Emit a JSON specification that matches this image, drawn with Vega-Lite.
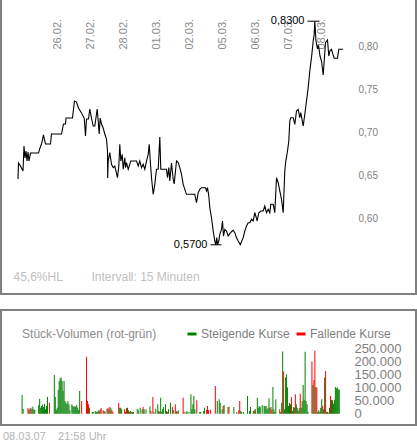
{
  "$schema": "https://vega.github.io/schema/vega-lite/v6.json",
  "padding": {"left": 0, "top": -2, "right": 0, "bottom": 0},
  "spacing": 14,
  "config": {
    "font": "Liberation Sans",
    "view": {"stroke": "#808080", "strokeWidth": 2}
  },
  "title": {
    "text": "08.03.07\u00a0\u00a0\u00a0\u00a021:58 Uhr",
    "orient": "bottom",
    "anchor": "start",
    "fontSize": 11,
    "fontWeight": "normal",
    "color": "#b4b4b4",
    "offset": 5,
    "dx": 3
  },
  "vconcat": [
    {
      "width": 415,
      "height": 295,
      "layer": [
        {
          "data": {
            "values": [
              {"n": -39.5, "p": 0.6465}, {"n": -39, "p": 0.6651}, {"n": -37, "p": 0.6616}, {"n": -34.5, "p": 0.6558},
              {"n": -33.5, "p": 0.6849}, {"n": -32.5, "p": 0.6709}, {"n": -31.5, "p": 0.6791}, {"n": -30.5, "p": 0.6674},
              {"n": -29.5, "p": 0.6779}, {"n": -28.5, "p": 0.6674}, {"n": -27, "p": 0.6767}, {"n": -19, "p": 0.6767},
              {"n": -17.5, "p": 0.6826}, {"n": -16, "p": 0.6872}, {"n": -14, "p": 0.6977}, {"n": -13, "p": 0.6919},
              {"n": -12, "p": 0.6872}, {"n": -7, "p": 0.6872}, {"n": -6, "p": 0.6988}, {"n": 4, "p": 0.6988},
              {"n": 5, "p": 0.7047}, {"n": 6, "p": 0.7105}, {"n": 8, "p": 0.7105}, {"n": 8.5, "p": 0.7174},
              {"n": 15, "p": 0.7174}, {"n": 16, "p": 0.7279}, {"n": 17, "p": 0.7372}, {"n": 19, "p": 0.736},
              {"n": 21, "p": 0.7291}, {"n": 24, "p": 0.7233}, {"n": 26.7, "p": 0.7174}, {"n": 28, "p": 0.6965},
              {"n": 29, "p": 0.7163}, {"n": 31, "p": 0.7163}, {"n": 32.3, "p": 0.7279}, {"n": 34, "p": 0.7174},
              {"n": 35.7, "p": 0.7081}, {"n": 37.3, "p": 0.7081}, {"n": 39, "p": 0.7221}, {"n": 39.7, "p": 0.7279},
              {"n": 40.7, "p": 0.714}, {"n": 41.7, "p": 0.6988}, {"n": 42.7, "p": 0.7174}, {"n": 44, "p": 0.7105},
              {"n": 45.7, "p": 0.7058}, {"n": 47.3, "p": 0.6988}, {"n": 49, "p": 0.693}, {"n": 50, "p": 0.6791},
              {"n": 50.2, "p": 0.6477}, {"n": 50.7, "p": 0.6674}, {"n": 52.3, "p": 0.6771}, {"n": 54, "p": 0.6636},
              {"n": 55.7, "p": 0.6597}, {"n": 57.3, "p": 0.6616}, {"n": 60, "p": 0.648}, {"n": 61.3, "p": 0.6616},
              {"n": 62.3, "p": 0.6869}, {"n": 63.3, "p": 0.6674}, {"n": 64.7, "p": 0.6752}, {"n": 65.7, "p": 0.6578},
              {"n": 67.3, "p": 0.6713}, {"n": 68, "p": 0.6597}, {"n": 69, "p": 0.6655}, {"n": 70.7, "p": 0.6578},
              {"n": 72.3, "p": 0.6636}, {"n": 73.3, "p": 0.6674}, {"n": 79, "p": 0.6674}, {"n": 80.7, "p": 0.6616},
              {"n": 82.3, "p": 0.6674}, {"n": 84, "p": 0.6597}, {"n": 85.7, "p": 0.6636}, {"n": 87.3, "p": 0.6578},
              {"n": 89, "p": 0.6674}, {"n": 90.7, "p": 0.6752}, {"n": 91.7, "p": 0.6869}, {"n": 93, "p": 0.6636},
              {"n": 94, "p": 0.648}, {"n": 95.7, "p": 0.6287}, {"n": 97.3, "p": 0.6403}, {"n": 98, "p": 0.648},
              {"n": 99, "p": 0.6578}, {"n": 100.7, "p": 0.6578}, {"n": 102.3, "p": 0.6953}, {"n": 103.3, "p": 0.6578},
              {"n": 109, "p": 0.6578}, {"n": 110, "p": 0.648}, {"n": 111.3, "p": 0.6597}, {"n": 112.3, "p": 0.6442},
              {"n": 114, "p": 0.6651}, {"n": 115.7, "p": 0.6465}, {"n": 116.7, "p": 0.6407}, {"n": 119, "p": 0.6674},
              {"n": 120.7, "p": 0.6655}, {"n": 122.3, "p": 0.6597}, {"n": 124, "p": 0.652}, {"n": 125.7, "p": 0.6403},
              {"n": 127.3, "p": 0.6345}, {"n": 129, "p": 0.6287}, {"n": 137.3, "p": 0.6287}, {"n": 139, "p": 0.619},
              {"n": 140.7, "p": 0.6306}, {"n": 142.3, "p": 0.6345}, {"n": 144, "p": 0.6364}, {"n": 148, "p": 0.6364},
              {"n": 149, "p": 0.6326}, {"n": 150, "p": 0.6364}, {"n": 151.3, "p": 0.6267}, {"n": 152.3, "p": 0.6131},
              {"n": 154, "p": 0.6015}, {"n": 155.7, "p": 0.586}, {"n": 157.3, "p": 0.5744}, {"n": 158.3, "p": 0.57},
              {"n": 159.3, "p": 0.5783}, {"n": 160, "p": 0.57}, {"n": 161.3, "p": 0.5744}, {"n": 162.3, "p": 0.5822},
              {"n": 164, "p": 0.588}, {"n": 165, "p": 0.5977}, {"n": 166, "p": 0.5802}, {"n": 167.3, "p": 0.588},
              {"n": 169, "p": 0.586}, {"n": 170.7, "p": 0.5802}, {"n": 172.3, "p": 0.5829}, {"n": 174, "p": 0.5852},
              {"n": 175.7, "p": 0.5869}, {"n": 177.3, "p": 0.5841}, {"n": 179, "p": 0.5783}, {"n": 180.7, "p": 0.5744},
              {"n": 182.8, "p": 0.57}, {"n": 185.7, "p": 0.5783}, {"n": 187.3, "p": 0.586}, {"n": 189, "p": 0.5919},
              {"n": 190.7, "p": 0.5957}, {"n": 192.3, "p": 0.5957}, {"n": 194, "p": 0.5997}, {"n": 195.7, "p": 0.5977},
              {"n": 197.3, "p": 0.6073}, {"n": 198.3, "p": 0.6035}, {"n": 199.7, "p": 0.5977}, {"n": 201.3, "p": 0.6073},
              {"n": 203.3, "p": 0.6093}, {"n": 205.7, "p": 0.6093}, {"n": 207.3, "p": 0.6151}, {"n": 209, "p": 0.6073},
              {"n": 210.7, "p": 0.6113}, {"n": 212.3, "p": 0.6073}, {"n": 213.3, "p": 0.6171}, {"n": 215.7, "p": 0.6171},
              {"n": 217.3, "p": 0.6073}, {"n": 219, "p": 0.648}, {"n": 220.7, "p": 0.6422}, {"n": 222.3, "p": 0.6326},
              {"n": 224, "p": 0.6229}, {"n": 225.7, "p": 0.6073}, {"n": 227.3, "p": 0.6558}, {"n": 228.3, "p": 0.6674},
              {"n": 230, "p": 0.6791}, {"n": 231.3, "p": 0.6907}, {"n": 232.3, "p": 0.714}, {"n": 233.3, "p": 0.7178},
              {"n": 235.7, "p": 0.7178}, {"n": 237.3, "p": 0.7101}, {"n": 239, "p": 0.7256}, {"n": 240.7, "p": 0.7276},
              {"n": 242.3, "p": 0.7178}, {"n": 243.3, "p": 0.7236}, {"n": 245.7, "p": 0.7081}, {"n": 247.3, "p": 0.7217},
              {"n": 249, "p": 0.7372}, {"n": 250.7, "p": 0.7527}, {"n": 252.3, "p": 0.7721}, {"n": 254, "p": 0.7876},
              {"n": 255.7, "p": 0.807}, {"n": 256.7, "p": 0.8147}, {"n": 257.3, "p": 0.83}, {"n": 258.5, "p": 0.807},
              {"n": 260, "p": 0.7977}, {"n": 261, "p": 0.8023}, {"n": 262.5, "p": 0.7895}, {"n": 264, "p": 0.7837},
              {"n": 265.7, "p": 0.7674}, {"n": 266.7, "p": 0.7837}, {"n": 268, "p": 0.805}, {"n": 270, "p": 0.8081},
              {"n": 271.3, "p": 0.7895}, {"n": 272.3, "p": 0.7953}, {"n": 274, "p": 0.7973}, {"n": 275.3, "p": 0.7919},
              {"n": 276.7, "p": 0.7869}, {"n": 280, "p": 0.7869}, {"n": 281.3, "p": 0.7973}, {"n": 285.7, "p": 0.7973}
            ]
          },
          "mark": {"type": "line", "color": "black", "strokeWidth": 1.1},
          "encoding": {
            "x": {
              "field": "n",
              "type": "quantitative",
              "scale": {"domain": [-56.5, 358.5], "nice": false, "zero": false},
              "axis": {
                "orient": "top",
                "offset": -52,
                "values": [0, 33, 66, 99, 132, 165, 198, 231, 264],
                "labelExpr": "['26.02.','27.02.','28.02.','01.03.','02.03.','05.03.','06.03.','07.03.','08.03.'][round(datum.value / 33)]",
                "labelAngle": -90,
                "labelFontSize": 11,
                "labelColor": "#8c8c8c",
                "labelPadding": 2,
                "labelOverlap": false,
                "labelFlush": false,
                "domain": false,
                "ticks": false,
                "grid": false,
                "title": null
              }
            },
            "y": {
              "field": "p",
              "type": "quantitative",
              "scale": {"domain": [0.51279, 0.85581], "nice": false, "zero": false},
              "axis": {
                "orient": "right",
                "offset": -60,
                "values": [0.6, 0.65, 0.7, 0.75, 0.8],
                "labelExpr": "replace(format(datum.value, '.2f'), '.', ',')",
                "labelFontSize": 10,
                "labelColor": "#808080",
                "labelPadding": 2,
                "domain": false,
                "ticks": false,
                "grid": false,
                "title": null
              }
            }
          }
        },
        {
          "data": {
            "values": [
              {"n1": 250, "n2": 262, "p": 0.83},
              {"n1": 153, "n2": 164, "p": 0.57}
            ]
          },
          "mark": {"type": "rule", "color": "black", "strokeWidth": 1},
          "encoding": {
            "x": {"field": "n1", "type": "quantitative"},
            "x2": {"field": "n2"},
            "y": {"field": "p", "type": "quantitative"}
          }
        },
        {
          "data": {
            "values": [
              {"n1": 250, "p": 0.83, "label": "0,8300"},
              {"n1": 153, "p": 0.57, "label": "0,5700"}
            ]
          },
          "mark": {"type": "text", "align": "right", "baseline": "middle", "dx": -3, "fontSize": 11, "color": "black"},
          "encoding": {
            "x": {"field": "n1", "type": "quantitative"},
            "y": {"field": "p", "type": "quantitative"},
            "text": {"field": "label"}
          }
        },
        {
          "data": {
            "values": [
              {"n": -44, "p": 0.5326, "label": "45,6%HL"},
              {"n": 34, "p": 0.5326, "label": "Intervall: 15 Minuten"}
            ]
          },
          "mark": {"type": "text", "align": "left", "baseline": "middle", "fontSize": 12, "color": "#c0c0c0"},
          "encoding": {
            "x": {"field": "n", "type": "quantitative"},
            "y": {"field": "p", "type": "quantitative"},
            "text": {"field": "label"}
          }
        }
      ]
    },
    {
      "width": 415,
      "height": 115,
      "encoding": {
        "x": {
          "field": "n",
          "type": "quantitative",
          "scale": {"domain": [-56.5, 358.5], "nice": false, "zero": false},
          "axis": null
        },
        "y": {
          "field": "vol",
          "type": "quantitative",
          "scale": {"domain": [-43660, 400700], "nice": false, "zero": false},
          "axis": null
        }
      },
      "layer": [
        {
          "data": {
            "values": [
              {"n": -40, "vol": 72000, "typ": "Steigende Kurse"}, {"n": -39, "vol": 18000, "typ": "Steigende Kurse"},
              {"n": -34, "vol": 22000, "typ": "Fallende Kurse"}, {"n": -33, "vol": 15500, "typ": "Steigende Kurse"},
              {"n": -32, "vol": 19400, "typ": "Fallende Kurse"}, {"n": -31, "vol": 23000, "typ": "Steigende Kurse"},
              {"n": -30, "vol": 16800, "typ": "Fallende Kurse"}, {"n": -29, "vol": 27000, "typ": "Steigende Kurse"},
              {"n": -28, "vol": 16800, "typ": "Steigende Kurse"}, {"n": -27, "vol": 14000, "typ": "Steigende Kurse"},
              {"n": -23, "vol": 33600, "typ": "Steigende Kurse"}, {"n": -22, "vol": 58000, "typ": "Steigende Kurse"},
              {"n": -21, "vol": 23000, "typ": "Steigende Kurse"}, {"n": -20, "vol": 29700, "typ": "Steigende Kurse"},
              {"n": -19, "vol": 36000, "typ": "Steigende Kurse"}, {"n": -18, "vol": 25800, "typ": "Steigende Kurse"},
              {"n": -17, "vol": 38800, "typ": "Steigende Kurse"}, {"n": -16, "vol": 16800, "typ": "Steigende Kurse"},
              {"n": -15, "vol": 29700, "typ": "Steigende Kurse"}, {"n": -14, "vol": 64600, "typ": "Steigende Kurse"},
              {"n": -12, "vol": 42600, "typ": "Fallende Kurse"}, {"n": -7, "vol": 150000, "typ": "Steigende Kurse"},
              {"n": -6, "vol": 64600, "typ": "Steigende Kurse"}, {"n": -5, "vol": 15500, "typ": "Steigende Kurse"},
              {"n": -4, "vol": 23000, "typ": "Steigende Kurse"}, {"n": -3, "vol": 91700, "typ": "Steigende Kurse"},
              {"n": -2, "vol": 126600, "typ": "Steigende Kurse"}, {"n": -1, "vol": 137000, "typ": "Steigende Kurse"},
              {"n": 0, "vol": 139500, "typ": "Steigende Kurse"}, {"n": 1, "vol": 126600, "typ": "Steigende Kurse"},
              {"n": 2, "vol": 87900, "typ": "Steigende Kurse"}, {"n": 3, "vol": 126600, "typ": "Steigende Kurse"},
              {"n": 4, "vol": 49100, "typ": "Steigende Kurse"}, {"n": 5, "vol": 42600, "typ": "Steigende Kurse"},
              {"n": 6, "vol": 38800, "typ": "Steigende Kurse"}, {"n": 7, "vol": 49100, "typ": "Steigende Kurse"},
              {"n": 8, "vol": 36200, "typ": "Steigende Kurse"}, {"n": 9, "vol": 12900, "typ": "Steigende Kurse"},
              {"n": 11, "vol": 36200, "typ": "Steigende Kurse"}, {"n": 12, "vol": 29700, "typ": "Steigende Kurse"},
              {"n": 13, "vol": 25800, "typ": "Steigende Kurse"}, {"n": 14, "vol": 29700, "typ": "Steigende Kurse"},
              {"n": 15, "vol": 25800, "typ": "Steigende Kurse"}, {"n": 16, "vol": 33600, "typ": "Steigende Kurse"},
              {"n": 17, "vol": 23000, "typ": "Steigende Kurse"}, {"n": 18, "vol": 14200, "typ": "Steigende Kurse"},
              {"n": 19, "vol": 87900, "typ": "Steigende Kurse"}, {"n": 21, "vol": 49100, "typ": "Fallende Kurse"},
              {"n": 26, "vol": 219600, "typ": "Fallende Kurse"}, {"n": 27, "vol": 49100, "typ": "Fallende Kurse"},
              {"n": 28, "vol": 36200, "typ": "Fallende Kurse"}, {"n": 29, "vol": 23000, "typ": "Steigende Kurse"},
              {"n": 32, "vol": 6500, "typ": "Steigende Kurse"}, {"n": 33, "vol": 6500, "typ": "Steigende Kurse"},
              {"n": 35, "vol": 10300, "typ": "Steigende Kurse"}, {"n": 36, "vol": 7800, "typ": "Steigende Kurse"},
              {"n": 37, "vol": 6500, "typ": "Steigende Kurse"}, {"n": 38, "vol": 12900, "typ": "Steigende Kurse"},
              {"n": 39, "vol": 10300, "typ": "Fallende Kurse"}, {"n": 40, "vol": 16800, "typ": "Steigende Kurse"},
              {"n": 41, "vol": 22000, "typ": "Fallende Kurse"}, {"n": 43, "vol": 12900, "typ": "Fallende Kurse"},
              {"n": 44, "vol": 10300, "typ": "Fallende Kurse"}, {"n": 45, "vol": 7800, "typ": "Steigende Kurse"},
              {"n": 47, "vol": 19400, "typ": "Steigende Kurse"}, {"n": 48, "vol": 23300, "typ": "Fallende Kurse"},
              {"n": 49, "vol": 16800, "typ": "Steigende Kurse"}, {"n": 50, "vol": 25800, "typ": "Fallende Kurse"},
              {"n": 51, "vol": 20700, "typ": "Steigende Kurse"}, {"n": 52, "vol": 12900, "typ": "Fallende Kurse"},
              {"n": 53, "vol": 7800, "typ": "Fallende Kurse"}, {"n": 59, "vol": 41300, "typ": "Fallende Kurse"},
              {"n": 60, "vol": 23300, "typ": "Steigende Kurse"}, {"n": 61, "vol": 23300, "typ": "Steigende Kurse"},
              {"n": 62, "vol": 16800, "typ": "Steigende Kurse"}, {"n": 65, "vol": 16800, "typ": "Fallende Kurse"},
              {"n": 66, "vol": 6500, "typ": "Fallende Kurse"}, {"n": 67, "vol": 20700, "typ": "Fallende Kurse"},
              {"n": 68, "vol": 23300, "typ": "Steigende Kurse"}, {"n": 69, "vol": 12900, "typ": "Steigende Kurse"},
              {"n": 70, "vol": 7800, "typ": "Fallende Kurse"}, {"n": 71, "vol": 10300, "typ": "Steigende Kurse"},
              {"n": 72, "vol": 6500, "typ": "Steigende Kurse"}, {"n": 73, "vol": 6500, "typ": "Fallende Kurse"},
              {"n": 74, "vol": 6500, "typ": "Steigende Kurse"}, {"n": 78, "vol": 18100, "typ": "Steigende Kurse"},
              {"n": 79, "vol": 12900, "typ": "Steigende Kurse"}, {"n": 81, "vol": 23300, "typ": "Steigende Kurse"},
              {"n": 83, "vol": 16800, "typ": "Steigende Kurse"}, {"n": 84, "vol": 25800, "typ": "Fallende Kurse"},
              {"n": 85, "vol": 16800, "typ": "Steigende Kurse"}, {"n": 87, "vol": 16800, "typ": "Steigende Kurse"},
              {"n": 91, "vol": 28400, "typ": "Steigende Kurse"}, {"n": 92, "vol": 10300, "typ": "Fallende Kurse"},
              {"n": 94, "vol": 64600, "typ": "Fallende Kurse"}, {"n": 95, "vol": 6500, "typ": "Steigende Kurse"},
              {"n": 97, "vol": 19400, "typ": "Steigende Kurse"}, {"n": 99, "vol": 36200, "typ": "Steigende Kurse"},
              {"n": 100, "vol": 10300, "typ": "Steigende Kurse"}, {"n": 101, "vol": 7800, "typ": "Fallende Kurse"},
              {"n": 102, "vol": 62000, "typ": "Steigende Kurse"}, {"n": 103, "vol": 7800, "typ": "Steigende Kurse"},
              {"n": 104, "vol": 16800, "typ": "Steigende Kurse"}, {"n": 105, "vol": 25800, "typ": "Steigende Kurse"},
              {"n": 107, "vol": 36200, "typ": "Steigende Kurse"}, {"n": 108, "vol": 10300, "typ": "Steigende Kurse"},
              {"n": 109, "vol": 6500, "typ": "Fallende Kurse"}, {"n": 110, "vol": 16800, "typ": "Steigende Kurse"},
              {"n": 112, "vol": 42600, "typ": "Steigende Kurse"}, {"n": 114, "vol": 25800, "typ": "Fallende Kurse"},
              {"n": 115, "vol": 12900, "typ": "Steigende Kurse"}, {"n": 117, "vol": 36200, "typ": "Fallende Kurse"},
              {"n": 118, "vol": 10300, "typ": "Steigende Kurse"}, {"n": 119, "vol": 7800, "typ": "Fallende Kurse"},
              {"n": 120, "vol": 12900, "typ": "Steigende Kurse"}, {"n": 125, "vol": 62000, "typ": "Fallende Kurse"},
              {"n": 126, "vol": 6500, "typ": "Fallende Kurse"}, {"n": 128, "vol": 6500, "typ": "Steigende Kurse"},
              {"n": 129, "vol": 10300, "typ": "Steigende Kurse"}, {"n": 131, "vol": 6500, "typ": "Steigende Kurse"},
              {"n": 133, "vol": 74900, "typ": "Steigende Kurse"}, {"n": 134, "vol": 16800, "typ": "Steigende Kurse"},
              {"n": 135, "vol": 36200, "typ": "Steigende Kurse"}, {"n": 136, "vol": 68500, "typ": "Steigende Kurse"},
              {"n": 137, "vol": 16800, "typ": "Steigende Kurse"}, {"n": 139, "vol": 51700, "typ": "Fallende Kurse"},
              {"n": 142, "vol": 6500, "typ": "Steigende Kurse"}, {"n": 143, "vol": 6500, "typ": "Steigende Kurse"},
              {"n": 146, "vol": 10300, "typ": "Steigende Kurse"}, {"n": 147, "vol": 23300, "typ": "Steigende Kurse"},
              {"n": 149, "vol": 15500, "typ": "Fallende Kurse"}, {"n": 150, "vol": 29700, "typ": "Fallende Kurse"},
              {"n": 151, "vol": 12900, "typ": "Fallende Kurse"}, {"n": 153, "vol": 15500, "typ": "Fallende Kurse"},
              {"n": 158, "vol": 107200, "typ": "Fallende Kurse"}, {"n": 160, "vol": 49100, "typ": "Steigende Kurse"},
              {"n": 162, "vol": 55600, "typ": "Steigende Kurse"}, {"n": 163, "vol": 42600, "typ": "Steigende Kurse"},
              {"n": 165, "vol": 16800, "typ": "Steigende Kurse"}, {"n": 166, "vol": 29700, "typ": "Fallende Kurse"},
              {"n": 167, "vol": 33600, "typ": "Steigende Kurse"}, {"n": 171, "vol": 25800, "typ": "Steigende Kurse"},
              {"n": 172, "vol": 27100, "typ": "Fallende Kurse"}, {"n": 177, "vol": 25800, "typ": "Steigende Kurse"},
              {"n": 180, "vol": 6500, "typ": "Steigende Kurse"}, {"n": 182, "vol": 12900, "typ": "Fallende Kurse"},
              {"n": 183, "vol": 49100, "typ": "Fallende Kurse"}, {"n": 184, "vol": 10300, "typ": "Steigende Kurse"},
              {"n": 185, "vol": 6500, "typ": "Steigende Kurse"}, {"n": 187, "vol": 6500, "typ": "Steigende Kurse"},
              {"n": 191, "vol": 68500, "typ": "Steigende Kurse"}, {"n": 193, "vol": 10300, "typ": "Steigende Kurse"},
              {"n": 194, "vol": 25800, "typ": "Steigende Kurse"}, {"n": 197, "vol": 10300, "typ": "Steigende Kurse"},
              {"n": 198, "vol": 12900, "typ": "Fallende Kurse"}, {"n": 199, "vol": 16800, "typ": "Steigende Kurse"},
              {"n": 201, "vol": 62000, "typ": "Steigende Kurse"}, {"n": 202, "vol": 23300, "typ": "Steigende Kurse"},
              {"n": 203, "vol": 29700, "typ": "Steigende Kurse"}, {"n": 204, "vol": 25800, "typ": "Steigende Kurse"},
              {"n": 206, "vol": 33600, "typ": "Steigende Kurse"}, {"n": 208, "vol": 29700, "typ": "Steigende Kurse"},
              {"n": 209, "vol": 29700, "typ": "Steigende Kurse"}, {"n": 210, "vol": 29700, "typ": "Steigende Kurse"},
              {"n": 211, "vol": 16800, "typ": "Steigende Kurse"}, {"n": 212, "vol": 23300, "typ": "Steigende Kurse"},
              {"n": 213, "vol": 59400, "typ": "Steigende Kurse"}, {"n": 214, "vol": 23300, "typ": "Steigende Kurse"},
              {"n": 215, "vol": 25800, "typ": "Fallende Kurse"}, {"n": 216, "vol": 14200, "typ": "Fallende Kurse"},
              {"n": 217, "vol": 103400, "typ": "Steigende Kurse"}, {"n": 218, "vol": 16800, "typ": "Steigende Kurse"},
              {"n": 219, "vol": 6500, "typ": "Steigende Kurse"}, {"n": 220, "vol": 55600, "typ": "Steigende Kurse"},
              {"n": 224, "vol": 16800, "typ": "Fallende Kurse"}, {"n": 225, "vol": 6500, "typ": "Fallende Kurse"},
              {"n": 226, "vol": 42600, "typ": "Steigende Kurse"}, {"n": 227, "vol": 240300, "typ": "Steigende Kurse"},
              {"n": 228, "vol": 162800, "typ": "Fallende Kurse"}, {"n": 229, "vol": 16800, "typ": "Steigende Kurse"},
              {"n": 230, "vol": 139500, "typ": "Steigende Kurse"}, {"n": 231, "vol": 152500, "typ": "Steigende Kurse"},
              {"n": 232, "vol": 100800, "typ": "Steigende Kurse"}, {"n": 233, "vol": 29700, "typ": "Steigende Kurse"},
              {"n": 234, "vol": 41300, "typ": "Steigende Kurse"}, {"n": 235, "vol": 36200, "typ": "Steigende Kurse"},
              {"n": 236, "vol": 64600, "typ": "Fallende Kurse"}, {"n": 237, "vol": 10300, "typ": "Steigende Kurse"},
              {"n": 238, "vol": 25800, "typ": "Steigende Kurse"}, {"n": 239, "vol": 23300, "typ": "Steigende Kurse"},
              {"n": 240, "vol": 74900, "typ": "Fallende Kurse"}, {"n": 241, "vol": 36200, "typ": "Steigende Kurse"},
              {"n": 242, "vol": 23300, "typ": "Steigende Kurse"}, {"n": 243, "vol": 10300, "typ": "Steigende Kurse"},
              {"n": 244, "vol": 20700, "typ": "Steigende Kurse"}, {"n": 245, "vol": 77500, "typ": "Fallende Kurse"},
              {"n": 246, "vol": 23300, "typ": "Steigende Kurse"}, {"n": 247, "vol": 49100, "typ": "Steigende Kurse"},
              {"n": 248, "vol": 111100, "typ": "Steigende Kurse"}, {"n": 249, "vol": 54300, "typ": "Steigende Kurse"},
              {"n": 250, "vol": 239000, "typ": "Steigende Kurse"}, {"n": 251, "vol": 49100, "typ": "Steigende Kurse"},
              {"n": 252, "vol": 36200, "typ": "Steigende Kurse"}, {"n": 253, "vol": 7800, "typ": "Steigende Kurse"},
              {"n": 257, "vol": 201600, "typ": "Fallende Kurse"}, {"n": 258, "vol": 111100, "typ": "Steigende Kurse"},
              {"n": 259, "vol": 130500, "typ": "Fallende Kurse"}, {"n": 260, "vol": 242900, "typ": "Fallende Kurse"},
              {"n": 261, "vol": 103400, "typ": "Steigende Kurse"}, {"n": 262, "vol": 100800, "typ": "Fallende Kurse"},
              {"n": 263, "vol": 7800, "typ": "Steigende Kurse"}, {"n": 264, "vol": 12900, "typ": "Steigende Kurse"},
              {"n": 265, "vol": 6500, "typ": "Steigende Kurse"}, {"n": 266, "vol": 23300, "typ": "Steigende Kurse"},
              {"n": 267, "vol": 55600, "typ": "Steigende Kurse"}, {"n": 268, "vol": 29700, "typ": "Fallende Kurse"},
              {"n": 269, "vol": 16800, "typ": "Steigende Kurse"}, {"n": 270, "vol": 139500, "typ": "Steigende Kurse"},
              {"n": 271, "vol": 165400, "typ": "Fallende Kurse"}, {"n": 272, "vol": 7800, "typ": "Steigende Kurse"},
              {"n": 273, "vol": 6500, "typ": "Fallende Kurse"}, {"n": 274, "vol": 3900, "typ": "Steigende Kurse"},
              {"n": 275, "vol": 23300, "typ": "Steigende Kurse"}, {"n": 276, "vol": 68500, "typ": "Fallende Kurse"},
              {"n": 277, "vol": 53000, "typ": "Steigende Kurse"}, {"n": 278, "vol": 51700, "typ": "Steigende Kurse"},
              {"n": 279, "vol": 38800, "typ": "Steigende Kurse"}, {"n": 280, "vol": 54300, "typ": "Steigende Kurse"},
              {"n": 281, "vol": 103400, "typ": "Steigende Kurse"}, {"n": 282, "vol": 98200, "typ": "Steigende Kurse"},
              {"n": 283, "vol": 100800, "typ": "Steigende Kurse"}, {"n": 284, "vol": 94300, "typ": "Steigende Kurse"},
              {"n": 285, "vol": 93000, "typ": "Steigende Kurse"}
            ]
          },
          "mark": {"type": "bar", "width": 1},
          "encoding": {
            "y2": {"datum": 0},
            "color": {
              "field": "typ",
              "type": "nominal",
              "scale": {"domain": ["Steigende Kurse", "Fallende Kurse"], "range": ["#008000", "#ff0000"]},
              "legend": {
                "orient": "none",
                "legendX": 185,
                "legendY": 329,
                "direction": "horizontal",
                "title": null,
                "padding": 0,
                "symbolType": "M-1,-0.33H1V0.33H-1Z",
                "symbolSize": 81,
                "symbolStrokeWidth": 0,
                "labelFontSize": 12,
                "labelColor": "#808080",
                "labelOffset": 3,
                "columnPadding": 5
              }
            }
          }
        },
        {
          "data": {
            "values": [
              {"n": 300.5, "vol": 0, "label": "0"},
              {"n": 300.5, "vol": 50000, "label": "50.000"},
              {"n": 300.5, "vol": 100000, "label": "100.000"},
              {"n": 300.5, "vol": 150000, "label": "150.000"},
              {"n": 300.5, "vol": 200000, "label": "200.000"},
              {"n": 300.5, "vol": 250000, "label": "250.000"}
            ]
          },
          "mark": {"type": "text", "align": "left", "baseline": "middle", "fontSize": 13, "color": "#808080"},
          "encoding": {
            "text": {"field": "label"}
          }
        },
        {
          "data": {"values": [{"n": -40, "vol": 307960, "label": "Stück-Volumen (rot-grün)"}]},
          "mark": {"type": "text", "align": "left", "baseline": "middle", "fontSize": 12, "color": "#8c8c8c"},
          "encoding": {
            "text": {"field": "label"}
          }
        }
      ]
    }
  ]
}
